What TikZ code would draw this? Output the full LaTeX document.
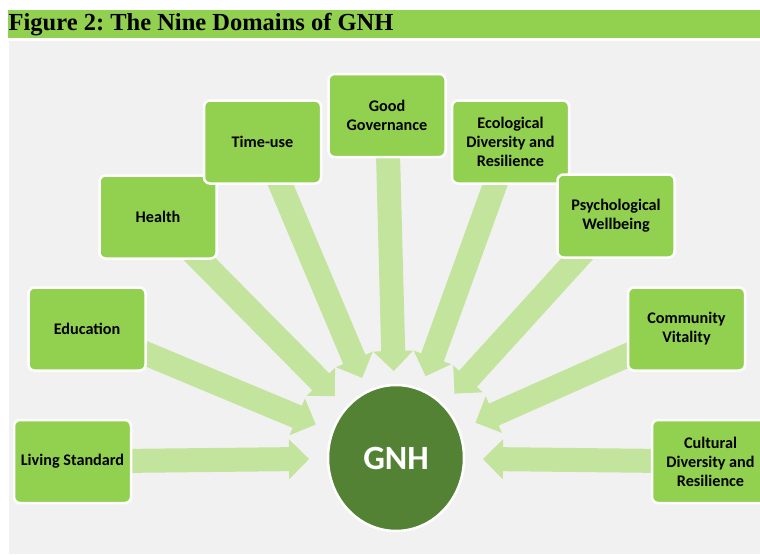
\documentclass[tikz,border=0pt]{standalone}
\usepackage{fontspec}
\setmainfont{Carlito}
\newfontfamily\titlefont{Liberation Serif}
\usetikzlibrary{calc,shapes.geometric}
\frenchspacing

\definecolor{barGreen}{HTML}{92D050}
\definecolor{boxGreen}{HTML}{92D050}
\definecolor{arrowGreen}{HTML}{C2E49C}
\definecolor{hubGreen}{HTML}{548235}
\definecolor{panelGray}{HTML}{F1F1F1}

\pgfdeclarelayer{panel}
\pgfdeclarelayer{flows}
\pgfsetlayers{panel,flows,main}

\tikzset{
  domainbox/.style={rectangle, rounded corners=6pt, fill=boxGreen, draw=white,
    line width=2.5pt, minimum width=117pt, minimum height=83pt, align=center,
    font=\bfseries\fontsize{16.2}{19}\selectfont, text=black, inner sep=2pt},
  hub/.style={ellipse, fill=hubGreen, draw=white, line width=2.5pt,
    minimum width=136pt, minimum height=146pt, inner sep=0pt,
    font=\bfseries\fontsize{34}{40}\selectfont, text=white},
  flow/.style={fill=arrowGreen},
}

% block arrow from a domain box towards the hub
\newcommand{\flowarrow}[1]{%
  \coordinate (tip) at ($(gnh.center)!87pt!(#1.center)$);
  \coordinate (neck) at ($(tip)!20pt!(#1.center)$);
  \fill[flow] ($(#1.center)!12pt!90:(tip)$) -- ($(neck)!12pt!90:(tip)$)
    -- ($(neck)!20pt!90:(tip)$) -- (tip) -- ($(neck)!20pt!-90:(tip)$)
    -- ($(neck)!12pt!-90:(tip)$) -- ($(#1.center)!12pt!-90:(tip)$) -- cycle;
}

\begin{document}
\begin{tikzpicture}[x=1pt, y=-1pt]
  \useasboundingbox (0,0) rectangle (760,554);
  \clip (0,0) rectangle (760,554);

  \begin{pgfonlayer}{panel}
    \fill[white] (0,0) rectangle (760,554);
    \fill[barGreen] (8,10) rectangle (760,38);
    \fill[panelGray] (9,41) rectangle (760,554);
  \end{pgfonlayer}
  \node[anchor=base west, inner sep=0pt, font=\titlefont\bfseries\fontsize{24.5}{28}\selectfont]
    (title) at (8.5,30) {Figure 2: The Nine Domains of GNH};

  \node[hub] (gnh) at (396,458) {GNH};

  \node[domainbox] (living) at (72.5,461.5) {Living Standard};
  \node[domainbox] (education) at (87,329) {Education};
  \node[domainbox] (health) at (158,217) {Health};
  \node[domainbox] (timeuse) at (262.5,142) {Time-use};
  \node[domainbox] (governance) at (387,115.5) {Good\\Governance};
  \node[domainbox] (ecological) at (510.5,142) {Ecological\\Diversity and\\Resilience};
  \node[domainbox] (psychological) at (616,216) {Psychological\\Wellbeing};
  \node[domainbox] (community) at (686.5,329) {Community\\Vitality};
  \node[domainbox] (cultural) at (710.5,461.5) {Cultural\\Diversity and\\Resilience};

  \begin{pgfonlayer}{flows}
    \foreach \d in {living,education,health,timeuse,governance,ecological,psychological,community,cultural}
      {\flowarrow{\d}}
  \end{pgfonlayer}
\end{tikzpicture}
\end{document}
